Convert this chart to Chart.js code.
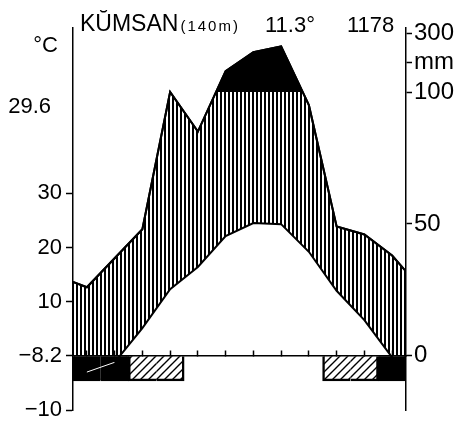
<!DOCTYPE html>
<html><head><meta charset="utf-8">
<script src="https://cdn.jsdelivr.net/npm/chart.js@4.4.1/dist/chart.umd.min.js"></script>
<style>html,body{margin:0;padding:0;background:#fff;}canvas{display:block;}</style>
</head><body>
<canvas id="c" width="466" height="425"></canvas>
<script>
// ---- data ----
const months = ['Jan','Feb','Mar','Apr','May','Jun','Jul','Aug','Sep','Oct','Nov','Dec'];
const temperature = [-3.0, -1.2, 5.1, 12.3, 16.4, 22.1, 24.5, 24.3, 19.2, 12.0, 6.6, -0.3];   // °C
const precipitation = [26, 37, 48, 100, 85, 171, 236, 256, 95, 49, 46, 38];                   // mm
const precipYearEdges = [28, 32];   // curve value at the left / right border
// frost: 2 = mean daily minimum below 0 °C, 1 = absolute minimum below 0 °C, 0 = none
const frost = [2, 2, 1, 1, 0, 0, 0, 0, 0, 1, 1, 2];
const tempTickValues = [-10, 0, 10, 20, 30];
const tempTickLabels = ['\u221210', '\u22128.2', '10', '20', '30'];
const precipTickValues = [0, 50, 100, 200, 300];
const precipTickLabels = ['0', '50', '100', 'mm', '300'];
const station = 'K\u016CMSAN';
const elevation = '(140m)';
const annualMeanTemp = '11.3\u00B0';
const annualPrecip = '1178';
const warmestMonthMax = '29.6';

// ---- layout / style constants ----
const FONT = '"Liberation Sans", Arial, Helvetica, sans-serif';
const TEMP_MIN = -10, TEMP_MAX = 60.5;
const UNITS_PER_DEG = 2.0539;        // precipitation units per °C on the drawing
const ABOVE_100_FACTOR = 1 / 9;      // compressed scale above 100 mm
const FROST_BAR_DEPTH = 4.6;         // in °C units below the 0 line

function precipToScale(mm) { return mm <= 100 ? mm : 100 + (mm - 100) * ABOVE_100_FACTOR; }

const canvas = document.getElementById('c');
const ctx0 = canvas.getContext('2d');

function makeVertPattern() {
  const c = document.createElement('canvas'); c.width = 4; c.height = 4;
  const g = c.getContext('2d'); g.fillStyle = '#000'; g.fillRect(0, 0, 2, 4);
  return ctx0.createPattern(c, 'repeat');
}
function makeDiagPattern() {
  const c = document.createElement('canvas'); c.width = 8; c.height = 8;
  const g = c.getContext('2d'); g.strokeStyle = '#000'; g.lineWidth = 1.4;
  g.beginPath();
  g.moveTo(-2, 10); g.lineTo(10, -2);
  g.moveTo(-2, 2); g.lineTo(2, -2);
  g.moveTo(6, 10); g.lineTo(10, 6);
  g.stroke();
  return ctx0.createPattern(c, 'repeat');
}
const vertPattern = makeVertPattern();
const diagPattern = makeDiagPattern();

// ---- build datasets from the arrays ----
const precipPoints = [{x: 0, y: precipToScale(precipYearEdges[0])}]
  .concat(precipitation.map((v, i) => ({x: i + 0.5, y: precipToScale(v)})))
  .concat([{x: 12, y: precipToScale(precipYearEdges[1])}]);
const tempPoints = temperature.map((v, i) => ({x: i + 0.5, y: v}));
const frostBars = [];
frost.forEach((f, i) => { if (f > 0) frostBars.push({x: i + 0.5, y: [0, -FROST_BAR_DEPTH], m: i}); });

const textPlugin = {
  id: 'diagramTexts',
  afterDraw(chart) {
    const c = chart.ctx, a = chart.chartArea;
    c.save();
    c.fillStyle = '#000';
    c.textBaseline = 'alphabetic';
    c.textAlign = 'left';
    c.font = '23px ' + FONT;
    c.fillText(station, a.left + 7, 31);
    const w = c.measureText(station).width;
    c.font = '15px ' + FONT;
    try { c.letterSpacing = '2px'; } catch (e) {}
    c.fillText(elevation, a.left + 7 + w + 2, 31);
    try { c.letterSpacing = '0px'; } catch (e) {}
    c.font = '22px ' + FONT;
    c.fillText(annualMeanTemp, 265, 32);
    c.fillText(annualPrecip, 347, 32);
    c.textAlign = 'right';
    c.fillText('\u00B0C', 58, 52);
    c.fillText(warmestMonthMax, 51, 113);
    c.restore();
  }
};

new Chart(canvas, {
  type: 'line',
  data: {
    datasets: [
      {
        type: 'bar', label: 'frost', data: frostBars, yAxisID: 'yT', order: 6,
        backgroundColor: c => (c.raw && c.raw.m !== undefined && frost[c.raw.m] === 2) ? '#000' : diagPattern,
        borderColor: '#000',
        borderSkipped: false,
        inflateAmount: 0.5,
        borderWidth: c => {
          const i = c.raw ? c.raw.m : 0;
          return {
            top: 0, bottom: 1.5,
            left: frost[i - 1] === frost[i] ? 0 : 1.5,
            right: frost[i + 1] === frost[i] ? 0 : 1.5
          };
        },
        barPercentage: 1, categoryPercentage: 1
      },
      {
        label: 'precip-humid', data: precipPoints, yAxisID: 'yP', order: 5,
        borderColor: '#000', borderWidth: 2, pointRadius: 0, tension: 0,
        backgroundColor: vertPattern,
        fill: {target: 'origin', above: vertPattern, below: 'rgba(0,0,0,0)'}
      },
      {
        label: 'temperature', data: tempPoints, yAxisID: 'yT', order: 4,
        borderColor: '#000', borderWidth: 2, pointRadius: 0, tension: 0,
        backgroundColor: '#fff',
        fill: {target: 'origin', above: '#fff', below: 'rgba(0,0,0,0)'},
        segment: {
          borderColor: s => (s.p0.parsed.y < 0 && s.p1.parsed.y < 0) ? '#fff' : '#000',
          borderWidth: s => (s.p0.parsed.y < 0 && s.p1.parsed.y < 0) ? 1 : 2
        }
      },
      {
        label: 'precip-above100', data: precipPoints, yAxisID: 'yP', order: 3,
        borderColor: '#000', borderWidth: 2, pointRadius: 0, tension: 0,
        backgroundColor: '#000',
        fill: {target: {value: 100}, above: '#000', below: 'rgba(0,0,0,0)'}
      }
    ]
  },
  options: {
    responsive: false,
    animation: false,
    devicePixelRatio: 1,
    layout: {padding: {top: 28, bottom: 15, left: 0, right: 0}},
    plugins: {legend: {display: false}, tooltip: {enabled: false}, title: {display: false}},
    scales: {
      x: {
        type: 'linear', min: 0, max: 12, offset: false,
        position: {yT: 0},
        ticks: {display: false, stepSize: 1},
        grid: {display: true, drawOnChartArea: false, drawTicks: true, tickLength: -6, tickColor: '#000', tickWidth: 1.5, z: 1},
        border: {display: true, color: '#000', width: 1.5, z: 1}
      },
      yT: {
        type: 'linear', position: 'left', min: TEMP_MIN, max: TEMP_MAX,
        afterBuildTicks: s => { s.ticks = tempTickValues.map(v => ({value: v})); },
        afterFit: s => { s.width = 73; },
        ticks: {
          autoSkip: false, color: '#000', padding: 4,
          font: {family: FONT, size: 22, lineHeight: 1},
          callback: v => tempTickLabels[tempTickValues.indexOf(v)]
        },
        grid: {drawOnChartArea: false, drawTicks: true, tickLength: 7, tickColor: '#000', tickWidth: 1.5, z: 1},
        border: {display: true, color: '#000', width: 1.5, z: 1}
      },
      yP: {
        type: 'linear', position: 'right',
        min: TEMP_MIN * UNITS_PER_DEG, max: TEMP_MAX * UNITS_PER_DEG,
        afterBuildTicks: s => { s.ticks = precipTickValues.map(v => ({value: precipToScale(v)})); },
        afterFit: s => { s.width = 60; },
        ticks: {
          autoSkip: false, color: '#000', padding: 2,
          font: {family: FONT, size: 24, lineHeight: 1},
          callback: (v, i) => precipTickLabels[i]
        },
        grid: {drawOnChartArea: false, drawTicks: true, tickLength: 6, tickColor: '#000', tickWidth: 1.5, z: 1},
        border: {display: true, color: '#000', width: 1.5, z: 1}
      }
    }
  },
  plugins: [textPlugin]
});
</script>
</body></html>
